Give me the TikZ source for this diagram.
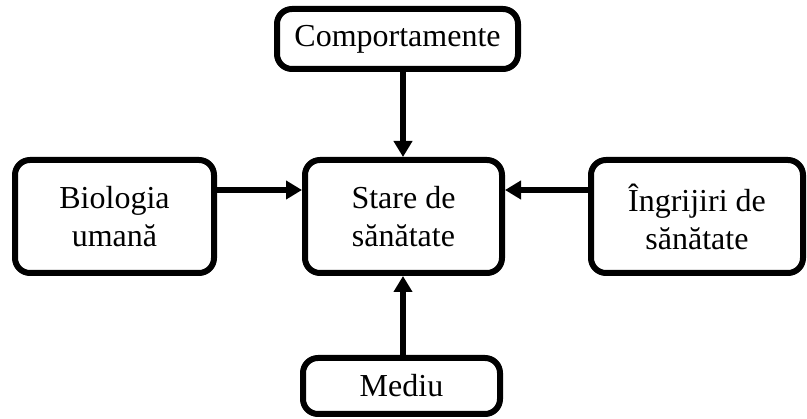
\documentclass[tikz,border=0pt]{standalone}
\usepackage{fontspec}
\setmainfont{Liberation Serif}
\usetikzlibrary{arrows.meta}
\begin{document}
\begin{tikzpicture}[x=1pt,y=-1pt,
  box/.style={draw=black, line width=6pt, rounded corners=15pt, fill=white,
    align=center, inner sep=0pt, font=\fontsize{32}{38}\selectfont},
  arr/.style={line width=6pt, -{Triangle[length=16pt,width=18pt]}}]
\useasboundingbox (0,0) rectangle (807,419);
\node[box, minimum width=241pt, minimum height=60pt] (comp) at (397.5,39) {Comportamente};
\node[box, minimum width=197pt, minimum height=113pt] (stare) at (403.5,216.5) {Stare de\\sănătate};
\node[box, minimum width=199pt, minimum height=113pt] (bio) at (114.5,216.5) {Biologia\\umană};
\node[box, minimum width=212pt, minimum height=113pt] (ingr) at (697,216.5) {Îngrijiri de\\sănătate};
\node[box, minimum width=197pt, minimum height=56pt] (mediu) at (401.5,386) {Mediu};
\coordinate (ay) at (0,190);
\coordinate (ax) at (403,0);
\draw[arr] (comp.south -| ax) -- (stare.north -| ax);
\draw[arr] (mediu.north -| ax) -- (stare.south -| ax);
\draw[arr] (bio.east |- ay) -- (stare.west |- ay);
\draw[arr] (ingr.west |- ay) -- (stare.east |- ay);
\end{tikzpicture}
\end{document}
